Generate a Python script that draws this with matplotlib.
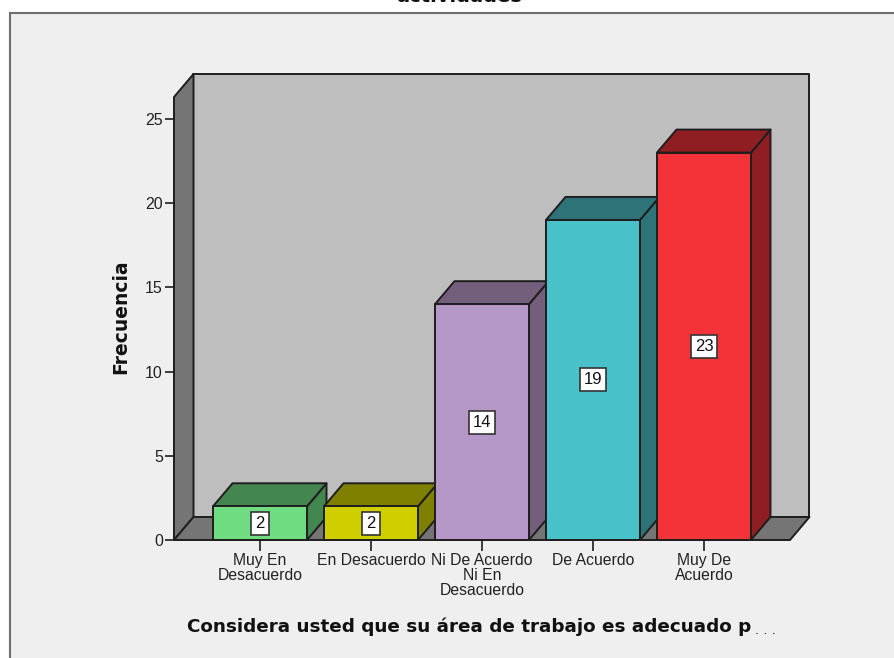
import matplotlib
matplotlib.use('Agg')
import matplotlib.pyplot as plt
from matplotlib.patches import Polygon, Rectangle

### Data

categories = ['Muy En\nDesacuerdo', 'En Desacuerdo', 'Ni De Acuerdo\nNi En\nDesacuerdo', 'De Acuerdo', 'Muy De\nAcuerdo']
frecuencia = [2, 2, 14, 19, 23]
front_colors = ['#70DC82', '#CFCF00', '#B698C8', '#48C1C8', '#F43339']
top_colors = ['#43864F', '#7F7F00', '#735E7C', '#2D7377', '#8E1E21']
y_ticks = [0, 5, 10, 15, 20, 25]

title = 'actividades'
x_title = 'Considera usted que su área de trabajo es adecuado p'
y_title = 'Frecuencia'

### Helpers

W, H = 894, 658
EDGE = '#1E1E1E'
WALL = '#BEBEBE'
SIDE = '#757575'
TEXT = '#222222'

# depth of the fake 3d box, in data units
DX = 19.5 / 111
DY = 23 / 16.84
BAR_W = 94 / 111

x_min, x_max = -0.775, 4.775
y_max = 26.3


def face(ax, pts, color, z):
    ax.add_patch(Polygon(pts, closed=True, facecolor=color, edgecolor=EDGE,
                         lw=1.4, joinstyle='round', clip_on=False, zorder=z))


def box(ax, x, h, front, top, z):
    l, r = x - BAR_W / 2, x + BAR_W / 2
    face(ax, [(r, 0), (r + DX, DY), (r + DX, h + DY), (r, h)], top, z)
    face(ax, [(l, h), (l + DX, h + DY), (r + DX, h + DY), (r, h)], top, z)
    face(ax, [(l, 0), (r, 0), (r, h), (l, h)], front, z)


plt.rcParams['font.family'] = ['Liberation Sans', 'DejaVu Sans']

fig = plt.figure(figsize=(W / 100, H / 100), dpi=100, facecolor='white')

# chart frame, runs off the right and bottom of the image
fig.add_artist(Rectangle((10 / W, -0.05), 1, 1 - 13 / H + 0.05, transform=fig.transFigure,
                         facecolor='#EFEFEF', edgecolor='#6E6E6E', lw=1.5, zorder=-1))

ax = fig.add_axes([174 / W, 1 - 540 / H, (790 - 174) / W, (540 - 97) / H])
ax.patch.set_visible(False)
ax.set_xlim(x_min, x_max)
ax.set_ylim(0, y_max)
for s in ax.spines.values():
    s.set_visible(False)

# back wall, left wall, floor
face(ax, [(x_min + DX, DY), (x_max + DX, DY), (x_max + DX, y_max + DY), (x_min + DX, y_max + DY)], WALL, 1)
face(ax, [(x_min, 0), (x_min + DX, DY), (x_min + DX, y_max + DY), (x_min, y_max)], SIDE, 1)
face(ax, [(x_min, 0), (x_max, 0), (x_max + DX, DY), (x_min + DX, DY)], SIDE, 1)

for i, v in enumerate(frecuencia):
    box(ax, i, v, front_colors[i], top_colors[i], 2 + i)
    ax.text(i, v / 2, str(v), ha='center', va='center', fontsize=12, color='#111111', zorder=10,
            bbox=dict(boxstyle='square,pad=0.24', facecolor='white', edgecolor='#333333', lw=1.2))

ax.set_yticks(y_ticks)
ax.set_xticks(range(len(categories)))
ax.set_xticklabels(categories, linespacing=0.98)
ax.tick_params(axis='y', length=6.5, width=1.2, color=EDGE, labelsize=11.5, labelcolor=TEXT, pad=1.5)
ax.tick_params(axis='x', length=8, width=1.2, color=EDGE, labelsize=11.3, labelcolor=TEXT, pad=1.5)

fig.text(121 / W, 1 - 317 / H, y_title, rotation=90, ha='center', va='center',
         fontsize=13.5, fontweight='bold', family='DejaVu Sans', color='#111111')
fig.text(187 / W, 1 - 627 / H, x_title, ha='left', va='center',
         fontsize=13.2, fontweight='bold', family='DejaVu Sans', color='#111111')
fig.text(755 / W, 1 - 631 / H, '. . .', ha='left', va='center',
         fontsize=9.5, family='DejaVu Sans', color='#222222')

# top line of the title is cut off by the image edge
fig.text(459 / W, 1 + 4 / H, title, ha='center', va='center',
         fontsize=14, fontweight='bold', family='DejaVu Sans', color='#111111')

fig.savefig('out.png', dpi=100)
plt.close(fig)
